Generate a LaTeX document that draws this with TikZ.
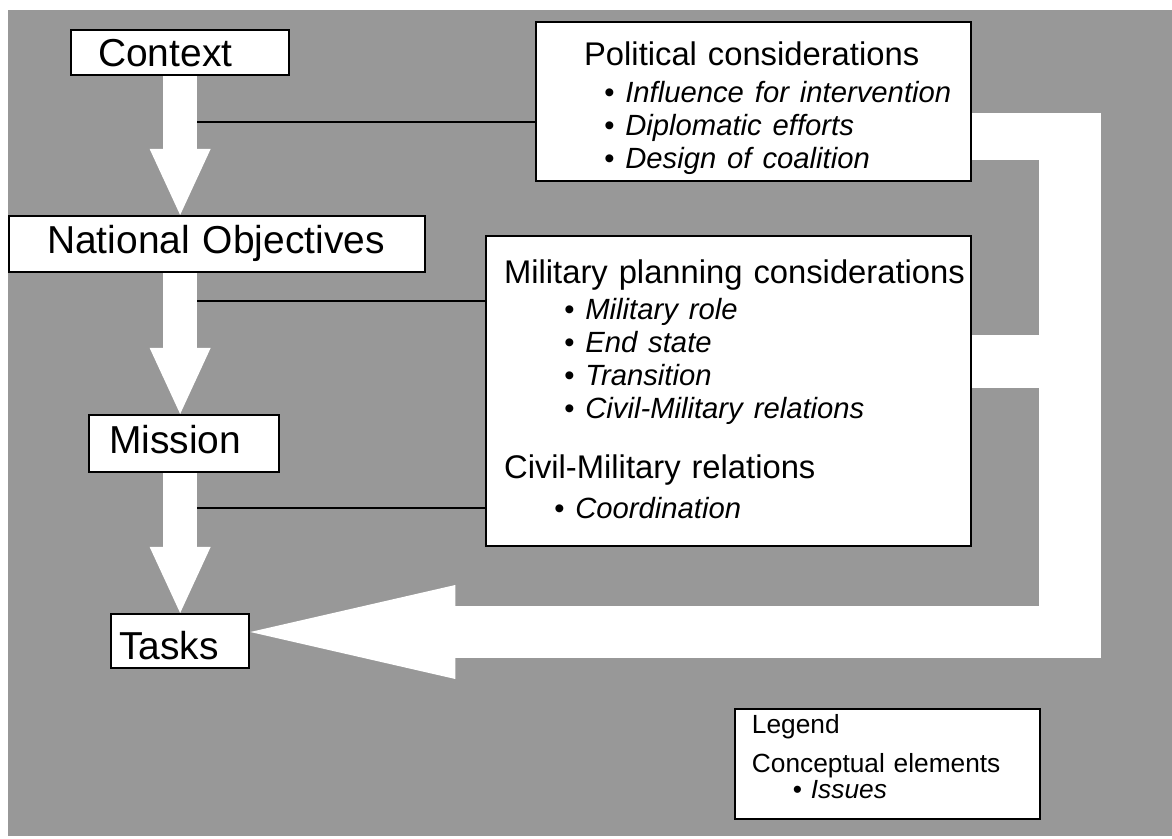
\documentclass[tikz,border=0pt]{standalone}
\usepackage{fontspec}
\setmainfont{Liberation Sans}
\usepackage{tikz}
\usetikzlibrary{positioning,arrows.meta,backgrounds}
\definecolor{dither}{RGB}{152,152,152}
\definecolor{framegray}{RGB}{0,0,0}

\newcommand{\stagefont}{\fontsize{27.7}{33}\selectfont}
\newcommand{\headfont}{\fontsize{23.3}{23.5}\selectfont}
\newcommand{\issuefont}{\fontsize{20.8}{23.5}\selectfont\itshape}
\newcommand{\keyfont}{\fontsize{18.7}{18.5}\selectfont}

\begin{document}
\begin{tikzpicture}[x=0.025cm, y=-0.025cm]
    \tikzstyle{stage} = [rectangle, draw=framegray, fill=white, line width=1.6pt, anchor=north west, inner ysep=0pt, align=left, font=\stagefont]
    \tikzstyle{issuebox} = [rectangle, draw=framegray, fill=white, line width=1.6pt, anchor=north west, inner sep=0pt, align=left, font=\headfont]
    \tikzstyle{keybox} = [issuebox, line width=1.3pt, font=\keyfont]
    \tikzstyle{flow} = [draw=white, line width=0.85cm, -{Triangle[length=1.65cm, width=1.525cm, line width=0pt]}]
    \tikzstyle{band} = [draw=white]
    \tikzstyle{link} = [draw=black, line width=2pt]

    \useasboundingbox (0,0) rectangle (1172,839);

    % Conceptual elements
    \node [stage, text width=4.1cm, inner xsep=0.675cm, text height=0.9cm, text depth=0.225cm] (ctx) at (70,29) {Context};
    \node [stage, text width=8.5cm, inner xsep=0.95cm, text height=0.925cm, text depth=0.475cm] (obj) at (8,215) {\mbox{National Objectives}};
    \node [stage, text width=3.75cm, inner xsep=0.5cm, text height=0.95cm, text depth=0.475cm] (mis) at (88,414) {Mission};
    \node [stage, text width=3.05cm, inner xsep=0.2cm, text height=1.125cm, text depth=0.225cm] (tsk) at (110,613) {Tasks};

    % Issues
    \node [issuebox, text width=10.875cm, text height=1.075cm, text depth=2.9cm] (pol) at (535,21) {%
        \hspace*{1.2cm}Political considerations\\[2.8pt]
        \hspace*{1.7cm}{\issuefont\textbullet\ Influence for intervention}\\
        \hspace*{1.7cm}{\issuefont\textbullet\ Diplomatic efforts}\\
        \hspace*{1.7cm}{\issuefont\textbullet\ Design of coalition}};
    \node [issuebox, text width=12.125cm, text height=1.175cm, text depth=6.575cm] (mil) at (485,235) {%
        \hspace*{0.45cm}Military planning considerations\\[2.1pt]
        \hspace*{1.95cm}{\issuefont\textbullet\ Military role}\\
        \hspace*{1.95cm}{\issuefont\textbullet\ End state}\\
        \hspace*{1.95cm}{\issuefont\textbullet\ Transition}\\
        \hspace*{1.95cm}{\issuefont\textbullet\ Civil-Military relations}\\[19.2pt]
        \hspace*{0.45cm}Civil-Military relations\\[5pt]
        \hspace*{1.7cm}{\issuefont\textbullet\ Coordination}};

    % Legend
    \node [keybox, text width=7.625cm, text height=0.625cm, text depth=2.125cm] (key) at (734,708) {%
        \hspace*{0.425cm}Legend\\[9.2pt]
        \hspace*{0.425cm}Conceptual elements\\
        \hspace*{1.45cm}\textbullet\ \textit{Issues}};

    \begin{scope}[on background layer]
        \fill [dither] (8,10) rectangle (1172,836);

        % Links to issues
        \draw [link] (ctx.south |- 0,122) -- (pol.west |- 0,122);
        \draw [link] (ctx.south |- 0,301) -- (mil.west |- 0,301);
        \draw [link] (ctx.south |- 0,508) -- (mil.west |- 0,508);

        % Flow down
        \draw [flow] (ctx.south) -- (ctx.south |- obj.north);
        \draw [flow] (ctx.south |- obj.south) -- (ctx.south |- mis.north);
        \draw [flow] (ctx.south |- mis.south) -- (ctx.south |- tsk.north);

        % Feedback loop
        \coordinate (loop top) at (1070,113);
        \coordinate (loop bottom) at (1070,658);
        \draw [band, line width=1.175cm] (pol.east |- 0,136.5) -- (1101,136.5);
        \draw [band, line width=1.55cm] (loop top) -- (loop bottom);
        \draw [band, line width=1.325cm] (mil.east |- 0,361.5) -- (1039,361.5);
        \draw [band, line width=1.3cm, -{Triangle[length=5.125cm, width=2.35cm, line width=0pt]}] (1101,632) -- (tsk.east |- 0,632);
    \end{scope}
\end{tikzpicture}
\end{document}
